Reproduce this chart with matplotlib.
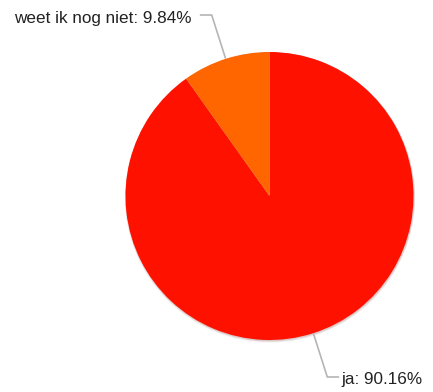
import numpy as np
import matplotlib.pyplot as plt
from matplotlib.patches import Circle

labels = ['ja', 'weet ik nog niet']
values = [90.16, 9.84]
colors = ['#ff1100', '#ff6600']

W, H = 433, 392
fig = plt.figure(figsize=(W / 100, H / 100), dpi=100)
ax = fig.add_axes([0, 0, 1, 1])
ax.set_xlim(0, W)
ax.set_ylim(0, H)
ax.set_aspect('equal')
ax.axis('off')

cx, cy, r = 269.5, H - 196, 144

# soft shadow under the pie
for i, a in enumerate([0.06, 0.08, 0.10]):
    ax.add_patch(Circle((cx + 0.5, cy - 1.5 + i * 0.4), r + 1.2 - i * 0.4,
                        color='#550000', alpha=a, lw=0, zorder=1))

wedges, _ = ax.pie(values, colors=colors, startangle=90, counterclock=False,
                   center=(cx, cy), radius=r, frame=True,
                   wedgeprops=dict(linewidth=0, zorder=2))
ax.set_xlim(0, W)
ax.set_ylim(0, H)
ax.axis('off')

# leader lines with elbow + labels
for w, lab, v in zip(wedges, labels, values):
    mid = np.deg2rad((w.theta1 + w.theta2) / 2)
    ux, uy = np.cos(mid), np.sin(mid)
    p0 = (cx + ux * (r + 1), cy + uy * (r + 1))
    p1 = (cx + ux * (r + 46), cy + uy * (r + 46))
    side = 1 if ux > 0 else -1
    p2 = (p1[0] + side * 11, p1[1])
    ax.plot([p0[0], p1[0], p2[0]], [p0[1], p1[1], p2[1]],
            color='#b5b5b5', lw=1.2, zorder=3, solid_joinstyle='miter')
    gap = 3 if side > 0 else 9
    ax.text(p2[0] + side * gap, p2[1] - 3, f'{lab}: {v:.2f}%',
            ha='left' if side > 0 else 'right', va='center',
            fontsize=12.3, color='#222222', family='Liberation Sans')

fig.savefig('out.png', dpi=100)
